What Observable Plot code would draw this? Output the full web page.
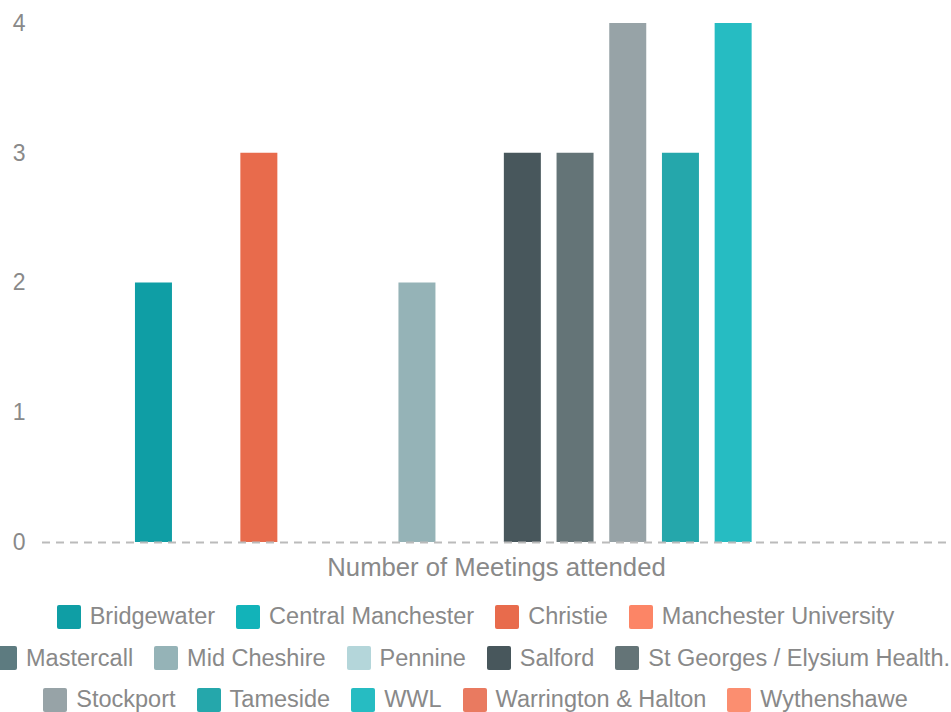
<!DOCTYPE html>
<html>
<head>
<meta charset="utf-8">
<script src="https://cdn.jsdelivr.net/npm/d3@7"></script>
<script src="https://cdn.jsdelivr.net/npm/@observablehq/plot@0.6"></script>
<style>
  html, body { margin: 0; padding: 0; background: #fff; overflow: hidden; width: 951px; }
  body { font-family: "Liberation Sans", Arial, sans-serif; }
  #legend { width: 951px; margin-top: 14px; }
  .row { display: flex; justify-content: center; align-items: center; height: 41.5px; white-space: nowrap; }
  .row.r1 { transform: translateX(-4px); }
  .item { display: flex; align-items: center; margin: 0 10.5px; flex: none; }
  .sw { width: 24px; height: 24px; border-radius: 2px; margin-right: 9px; flex: none; }
  .lab { font-size: 23.5px; color: #898989; }
</style>
</head>
<body>
<div id="chart"></div>
<div id="legend"></div>
<script>
const groupLabel = "Number of Meetings attended";
const series = [
  "Bridgewater", "Central Manchester", "Christie", "Manchester University",
  "Mastercall", "Mid Cheshire", "Pennine", "Salford", "St Georges / Elysium Health.",
  "Stockport", "Tameside", "WWL", "Warrington & Halton", "Wythenshawe"
];
const values = [2, 0, 3, 0, 0, 2, 0, 3, 3, 4, 3, 4, 0, 0];
const colors = [
  "#0f9ea5", "#12b3b9", "#e86b4c", "#fc8566",
  "#5d7b80", "#95b3b7", "#b4d6da", "#48575c", "#647477",
  "#97a3a7", "#25a7ab", "#26bcc2", "#e97a60", "#fb8e70"
];
const yTicks = [0, 1, 2, 3, 4];
const legendRows = [
  ["Bridgewater", "Central Manchester", "Christie", "Manchester University"],
  ["Mastercall", "Mid Cheshire", "Pennine", "Salford", "St Georges / Elysium Health."],
  ["Stockport", "Tameside", "WWL", "Warrington & Halton", "Wythenshawe"]
];

const data = series.map((s, i) => ({group: groupLabel, series: s, value: values[i]}));
const textColor = "#898989";

const chart = Plot.plot({
  width: 951,
  height: 582,
  marginTop: 23,
  marginLeft: 42,
  marginRight: 1,
  marginBottom: 40,
  style: {fontFamily: "'Liberation Sans', Arial, sans-serif", fontSize: "23px", color: textColor, background: "#fff"},
  fx: {domain: [groupLabel], padding: 0, round: false, label: null},
  x: {domain: series, axis: null, round: false, paddingInner: 0.298, paddingOuter: 1.764},
  y: {domain: [0, 4], label: null},
  color: {domain: series, range: colors},
  marks: [
    Plot.axisY({ticks: yTicks, tickSize: 0, tickPadding: 17, label: null, fontSize: 23, fill: textColor, tickFormat: d3.format("d")}),
    Plot.axisFx({anchor: "bottom", tickSize: 0, tickPadding: 15, label: null, fontSize: 25.7, fill: textColor}),
    Plot.barY(data, {fx: "group", x: "series", y: "value", fill: "series"}),
    Plot.ruleY([0], {stroke: "#bbbbbb", strokeWidth: 2, strokeDasharray: "8,6"})
  ]
});
document.getElementById("chart").appendChild(chart);

const colorOf = new Map(series.map((s, i) => [s, colors[i]]));
const legend = document.getElementById("legend");
legendRows.forEach((row, ri) => {
  const r = document.createElement("div");
  r.className = "row r" + ri;
  for (const name of row) {
    const it = document.createElement("div");
    it.className = "item";
    const sw = document.createElement("div");
    sw.className = "sw";
    sw.style.background = colorOf.get(name);
    const lb = document.createElement("span");
    lb.className = "lab";
    lb.textContent = name;
    it.appendChild(sw);
    it.appendChild(lb);
    r.appendChild(it);
  }
  legend.appendChild(r);
});
</script>
</body>
</html>
